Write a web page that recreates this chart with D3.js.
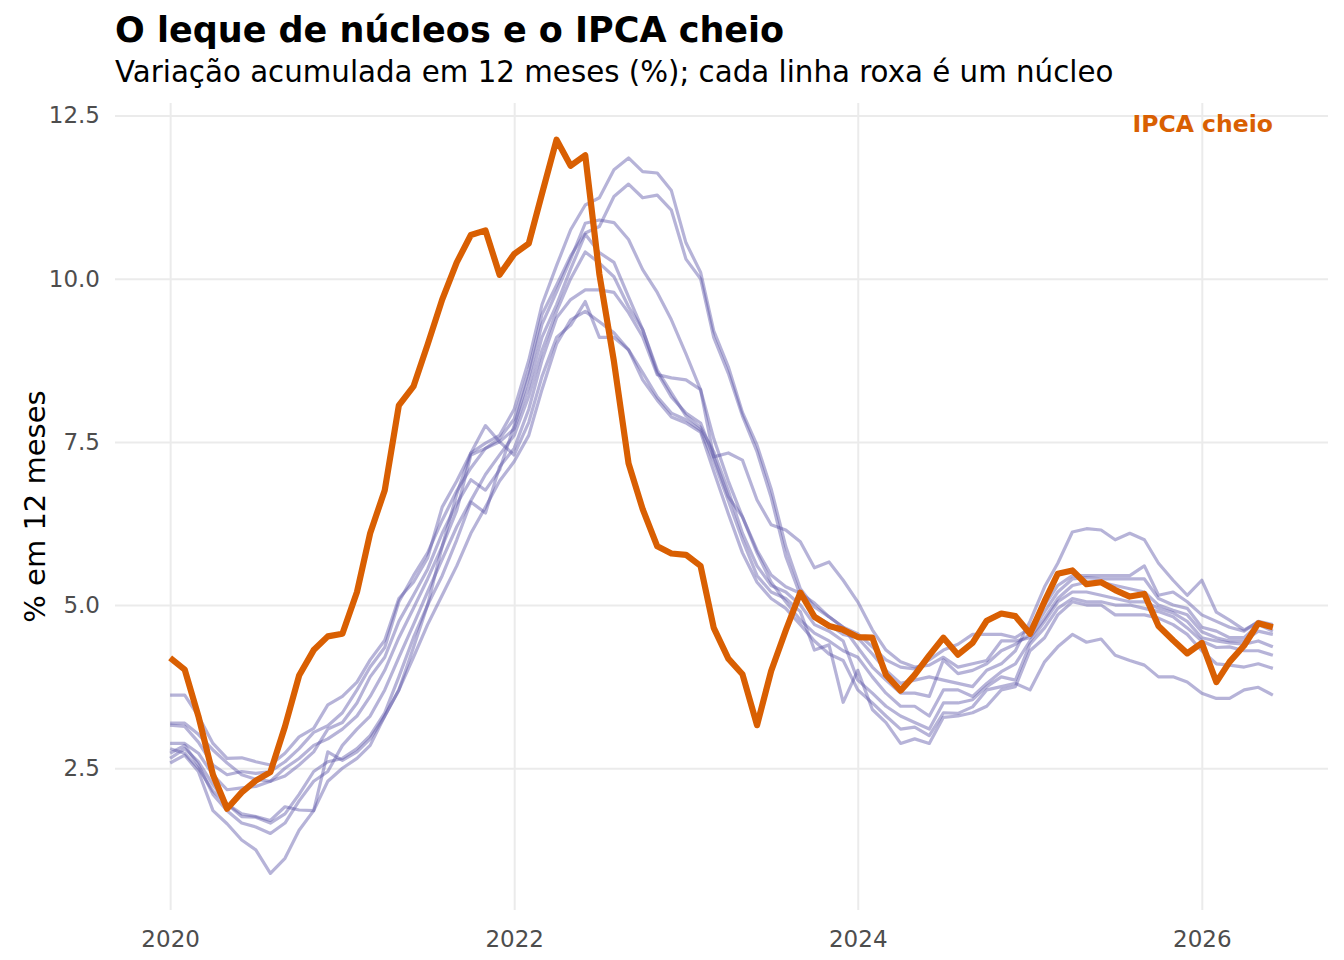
<!DOCTYPE html>
<html>
<head>
<meta charset="utf-8">
<script src="https://cdn.jsdelivr.net/npm/d3@7"></script>
<style>
  body { margin: 0; background: #ffffff; }
  svg { display: block; font-family: "DejaVu Sans", sans-serif; }
</style>
</head>
<body>
<svg id="chart" width="1344" height="960"></svg>
<script>
// ---------------- DATA ----------------
const meses = [
  "2020-01","2020-02","2020-03","2020-04","2020-05","2020-06","2020-07","2020-08","2020-09","2020-10","2020-11","2020-12",
  "2021-01","2021-02","2021-03","2021-04","2021-05","2021-06","2021-07","2021-08","2021-09","2021-10","2021-11","2021-12",
  "2022-01","2022-02","2022-03","2022-04","2022-05","2022-06","2022-07","2022-08","2022-09","2022-10","2022-11","2022-12",
  "2023-01","2023-02","2023-03","2023-04","2023-05","2023-06","2023-07","2023-08","2023-09","2023-10","2023-11","2023-12",
  "2024-01","2024-02","2024-03","2024-04","2024-05","2024-06","2024-07","2024-08","2024-09","2024-10","2024-11","2024-12",
  "2025-01","2025-02","2025-03","2025-04","2025-05","2025-06","2025-07","2025-08","2025-09","2025-10","2025-11","2025-12",
  "2026-01","2026-02","2026-03","2026-04","2026-05","2026-06"
];

const ipcaCheio = [
  4.19, 4.01, 3.30, 2.40, 1.88, 2.13, 2.31, 2.44, 3.14, 3.92, 4.31, 4.52,
  4.56, 5.20, 6.10, 6.76, 8.06, 8.35, 8.99, 9.68, 10.25, 10.67, 10.74, 10.06,
  10.38, 10.54, 11.30, 12.13, 11.73, 11.89, 10.07, 8.73, 7.17, 6.47, 5.90, 5.79,
  5.77, 5.60, 4.65, 4.18, 3.94, 3.16, 3.99, 4.61, 5.19, 4.82, 4.68, 4.62,
  4.51, 4.50, 3.93, 3.69, 3.93, 4.23, 4.50, 4.24, 4.42, 4.76, 4.87, 4.83,
  4.56, 5.06, 5.48, 5.53, 5.32, 5.35, 5.23, 5.13, 5.17, 4.68, 4.46, 4.26,
  4.42, 3.82, 4.13, 4.38, 4.72, 4.66
];

const nucleo1 = [
  3.62, 3.62, 3.30, 2.88, 2.65, 2.66, 2.60, 2.55, 2.73, 2.98, 3.11, 3.47,
  3.60, 3.82, 4.16, 4.46, 5.10, 5.35, 5.72, 6.50, 6.90, 7.33, 7.48, 7.60,
  8.00, 8.75, 9.60, 10.20, 10.75, 11.13, 11.24, 11.67, 11.85, 11.64, 11.62, 11.35,
  10.55, 10.10, 9.20, 8.65, 7.95, 7.45, 6.78, 5.90, 5.25, 4.97, 4.82, 4.66,
  4.56, 4.36, 4.16, 4.05, 4.02, 4.16, 4.31, 4.40, 4.55, 4.55, 4.55, 4.50,
  4.65, 5.00, 5.30, 5.45, 5.45, 5.45, 5.45, 5.45, 5.60, 5.15, 5.20, 5.05,
  4.85, 4.75, 4.66, 4.60, 4.75, 4.70
];
const nucleo2 = [
  3.16, 3.14, 2.90, 2.55, 2.40, 2.45, 2.42, 2.45, 2.60, 2.80, 3.05, 3.15,
  3.35, 3.70, 4.05, 4.35, 5.05, 5.45, 5.80, 6.30, 6.75, 7.10, 7.40, 7.55,
  7.85, 8.60, 9.45, 9.90, 10.35, 10.70, 10.80, 11.26, 11.45, 11.24, 11.28, 11.05,
  10.30, 10.00, 9.10, 8.55, 7.90, 7.35, 6.65, 5.75, 5.15, 4.85, 4.70, 4.55,
  4.50, 4.25, 4.00, 3.80, 3.85, 3.90, 3.85, 3.80, 3.75, 4.00, 4.10, 4.30,
  4.75, 5.28, 5.64, 6.12, 6.17, 6.15, 6.00, 6.10, 6.00, 5.64, 5.38, 5.15,
  5.38, 4.89, 4.77, 4.62, 4.74, 4.65
];
const nucleo3 = [
  3.19, 3.19, 3.02, 2.78, 2.58, 2.40, 2.33, 2.30, 2.38, 2.55, 2.75, 3.10,
  3.20, 3.50, 3.90, 4.20, 4.75, 5.15, 5.55, 6.10, 6.55, 6.92, 6.76, 7.07,
  7.75, 8.50, 9.30, 9.80, 10.30, 10.85, 10.90, 10.86, 10.60, 10.14, 9.79, 9.37,
  8.85, 8.30, 7.55, 6.90, 6.35, 5.84, 5.46, 5.28, 5.18, 5.03, 4.82, 4.66,
  4.35, 4.05, 3.85, 3.65, 3.65, 3.60, 4.16, 3.95, 4.00, 4.10, 4.30, 4.40,
  4.55, 4.90, 5.20, 5.40, 5.42, 5.40, 5.40, 5.40, 5.40, 5.10, 5.00, 4.95,
  4.66, 4.60, 4.50, 4.50, 4.70, 4.60
];
const nucleo4 = [
  2.88, 2.88, 2.73, 2.40, 2.17, 2.20, 2.22, 2.30, 2.50, 2.65, 2.85, 2.95,
  3.10, 3.30, 3.60, 4.00, 4.50, 4.95, 5.40, 5.90, 6.45, 7.30, 7.40, 7.50,
  7.70, 8.35, 9.10, 9.60, 10.15, 10.68, 10.40, 10.25, 9.72, 9.22, 8.56, 8.19,
  7.94, 7.79, 7.27, 6.66, 6.35, 5.80, 5.35, 5.05, 4.77, 4.57, 4.45, 4.30,
  4.20, 3.90, 3.65, 3.45, 3.45, 3.30, 3.70, 3.70, 3.60, 3.80, 3.98, 4.10,
  4.45, 4.75, 5.05, 5.20, 5.20, 5.15, 5.10, 5.05, 5.05, 4.95, 4.88, 4.75,
  4.50, 4.45, 4.42, 4.40, 4.45, 4.36
];
const nucleo5 = [
  2.73, 2.85, 2.55, 2.10, 1.85, 1.66, 1.60, 1.50, 1.66, 2.00, 2.30, 2.45,
  2.85, 3.10, 3.30, 3.70, 4.20, 4.70, 5.20, 5.70, 6.20, 6.60, 7.00, 7.30,
  7.60, 8.20, 8.90, 9.50, 10.00, 10.41, 10.24, 10.03, 9.57, 9.22, 8.60, 8.25,
  7.90, 7.72, 7.35, 6.75, 6.10, 5.60, 5.30, 5.20, 5.00, 4.70, 4.60, 4.45,
  3.85, 3.65, 3.45, 3.30, 3.20, 3.10, 3.50, 3.50, 3.55, 3.75, 3.90, 3.85,
  4.40, 4.65, 4.95, 5.10, 5.05, 5.05, 5.00, 5.00, 4.95, 4.90, 4.82, 4.65,
  4.45, 4.35, 4.36, 4.30, 4.30, 4.23
];
const nucleo6 = [
  2.65, 2.80, 2.60, 2.25, 1.95, 1.76, 1.75, 1.66, 1.80, 2.10, 2.45, 2.60,
  2.65, 2.80, 3.00, 3.35, 3.90, 4.50, 5.00, 5.45, 6.00, 6.58, 6.41, 7.12,
  7.40, 8.00, 8.75, 9.40, 9.68, 9.83, 9.83, 9.79, 9.48, 9.11, 8.53, 8.48,
  8.45, 8.30, 7.27, 7.33, 7.22, 6.61, 6.23, 6.15, 5.97, 5.57, 5.66, 5.38,
  5.05, 4.62, 4.31, 4.13, 4.05, 4.08, 4.20, 4.05, 4.10, 4.15, 4.45, 4.45,
  4.50, 4.80, 5.10, 5.30, 5.35, 5.35, 5.30, 5.25, 5.20, 5.00, 4.92, 4.85,
  4.59, 4.50, 4.45, 4.45, 4.60, 4.55
];
const nucleo7 = [
  2.80, 2.73, 2.50, 2.15, 1.95, 1.80, 1.76, 1.70, 1.91, 1.86, 1.85, 2.75,
  2.62, 2.75, 2.95, 3.30, 3.70, 4.35, 5.00, 5.90, 6.70, 7.33, 7.75, 7.50,
  7.30, 7.80, 8.50, 9.10, 9.29, 9.65, 9.10, 9.10, 8.91, 8.56, 8.19, 7.94,
  7.84, 7.68, 7.20, 6.60, 6.00, 5.45, 5.20, 5.10, 4.90, 4.31, 4.39, 3.51,
  4.00, 3.40, 3.20, 2.88, 2.95, 2.88, 3.28, 3.30, 3.35, 3.45, 3.70, 3.75,
  4.30, 4.50, 4.85, 5.05, 5.00, 5.00, 4.85, 4.85, 4.85, 4.80, 4.70, 4.55,
  4.30, 4.10, 4.08, 4.05, 4.10, 4.03
];
const nucleo8 = [
  2.58, 2.70, 2.45, 1.85, 1.65, 1.40, 1.25, 0.89, 1.12, 1.55, 1.85, 2.30,
  2.50, 2.65, 2.85, 3.30, 3.70, 4.20, 4.70, 5.15, 5.60, 6.10, 6.50, 6.90,
  7.20, 7.60, 8.30, 9.00, 9.37, 9.50, 9.34, 9.17, 8.91, 8.45, 8.14, 7.88,
  7.79, 7.65, 7.05, 6.40, 5.80, 5.35, 5.10, 4.95, 4.70, 4.45, 4.25, 4.15,
  3.70, 3.50, 3.30, 3.10, 3.13, 3.00, 3.35, 3.34, 3.44, 3.70, 3.75, 3.80,
  3.70, 4.13, 4.36, 4.55, 4.43, 4.48, 4.23, 4.15, 4.08, 3.90, 3.90, 3.82,
  3.65, 3.57, 3.57, 3.70, 3.74, 3.62
];

const nucleos = [nucleo1, nucleo2, nucleo3, nucleo4, nucleo5, nucleo6, nucleo7, nucleo8];

const xTickDates = ["2020-01", "2022-01", "2024-01", "2026-01"];
const xTickLabels = ["2020", "2022", "2024", "2026"];
const yTickValues = [2.5, 5.0, 7.5, 10.0, 12.5];
const yTickLabels = ["2.5", "5.0", "7.5", "10.0", "12.5"];

const titulo = "O leque de núcleos e o IPCA cheio";
const subtitulo = "Variação acumulada em 12 meses (%); cada linha roxa é um núcleo";
const tituloY = "% em 12 meses";
const rotuloIpca = "IPCA cheio";

// ---------------- CHART ----------------
const panel = { left: 115, right: 1328, top: 103, bottom: 910 };
const parse = d3.timeParse("%Y-%m");
const datas = meses.map(parse);

const svg = d3.select("#chart");

// x scale with 5% expansion (like ggplot)
const xExt = d3.extent(datas);
const xSpan = xExt[1] - xExt[0];
const x = d3.scaleTime()
  .domain([new Date(+xExt[0] - 0.05 * xSpan), new Date(+xExt[1] + 0.05 * xSpan)])
  .range([panel.left, panel.right]);

const allVals = ipcaCheio.concat(...nucleos);
const yExt = d3.extent(allVals);
const ySpan = yExt[1] - yExt[0];
const y = d3.scaleLinear()
  .domain([yExt[0] - 0.05 * ySpan, yExt[1] + 0.05 * ySpan])
  .range([panel.bottom, panel.top]);

const gridColor = "#ebebeb";

// gridlines
const xTickD = xTickDates.map(parse);
const gx = svg.append("g")
  .attr("transform", `translate(0,${panel.bottom})`)
  .call(d3.axisBottom(x).tickValues(xTickD).tickSize(-(panel.bottom - panel.top)).tickFormat(""));
gx.select(".domain").remove();
gx.selectAll("line").attr("stroke", gridColor).attr("stroke-width", 2);

const gy = svg.append("g")
  .attr("transform", `translate(${panel.left},0)`)
  .call(d3.axisLeft(y).tickValues(yTickValues).tickSize(-(panel.right - panel.left)).tickFormat(""));
gy.select(".domain").remove();
gy.selectAll("line").attr("stroke", gridColor).attr("stroke-width", 2);

// tick labels
const ax = svg.append("g")
  .attr("transform", `translate(0,${panel.bottom})`)
  .call(d3.axisBottom(x).tickValues(xTickD).tickSize(0).tickPadding(21)
    .tickFormat((d, i) => xTickLabels[i]));
ax.select(".domain").remove();
ax.selectAll("text").attr("font-size", 23).attr("fill", "#4d4d4d")
  .attr("font-family", '"DejaVu Sans", sans-serif');

const ay = svg.append("g")
  .attr("transform", `translate(${panel.left},0)`)
  .call(d3.axisLeft(y).tickValues(yTickValues).tickSize(0).tickPadding(15)
    .tickFormat((d, i) => yTickLabels[i]));
ay.select(".domain").remove();
ay.selectAll("text").attr("font-size", 23).attr("fill", "#4d4d4d")
  .attr("font-family", '"DejaVu Sans", sans-serif');

// lines
const line = d3.line()
  .x((d, i) => x(datas[i]))
  .y(d => y(d))
  .curve(d3.curveLinear);

svg.append("g").selectAll("path.nucleo")
  .data(nucleos)
  .join("path")
  .attr("class", "nucleo")
  .attr("d", d => line(d))
  .attr("fill", "none")
  .attr("stroke", "#5e56a8")
  .attr("stroke-opacity", 0.45)
  .attr("stroke-width", 3.2)
  .attr("stroke-linejoin", "round")
  .attr("stroke-linecap", "butt");

svg.append("path")
  .attr("d", line(ipcaCheio))
  .attr("fill", "none")
  .attr("stroke", "#d95f02")
  .attr("stroke-width", 6.2)
  .attr("stroke-linejoin", "round")
  .attr("stroke-linecap", "butt");

// IPCA label
svg.append("text")
  .attr("x", x(datas[datas.length - 1]))
  .attr("y", 132)
  .attr("text-anchor", "end")
  .attr("font-size", 23.5)
  .attr("font-weight", "bold")
  .attr("fill", "#d95f02")
  .text(rotuloIpca);

// titles
svg.append("text")
  .attr("x", 115).attr("y", 42)
  .attr("font-size", 35).attr("font-weight", "bold").attr("fill", "#000")
  .text(titulo);

svg.append("text")
  .attr("x", 115).attr("y", 82)
  .attr("font-size", 29.3).attr("fill", "#000")
  .text(subtitulo);

svg.append("text")
  .attr("transform", `translate(45,${(panel.top + panel.bottom) / 2}) rotate(-90)`)
  .attr("text-anchor", "middle")
  .attr("font-size", 29).attr("fill", "#000")
  .text(tituloY);
</script>
</body>
</html>
